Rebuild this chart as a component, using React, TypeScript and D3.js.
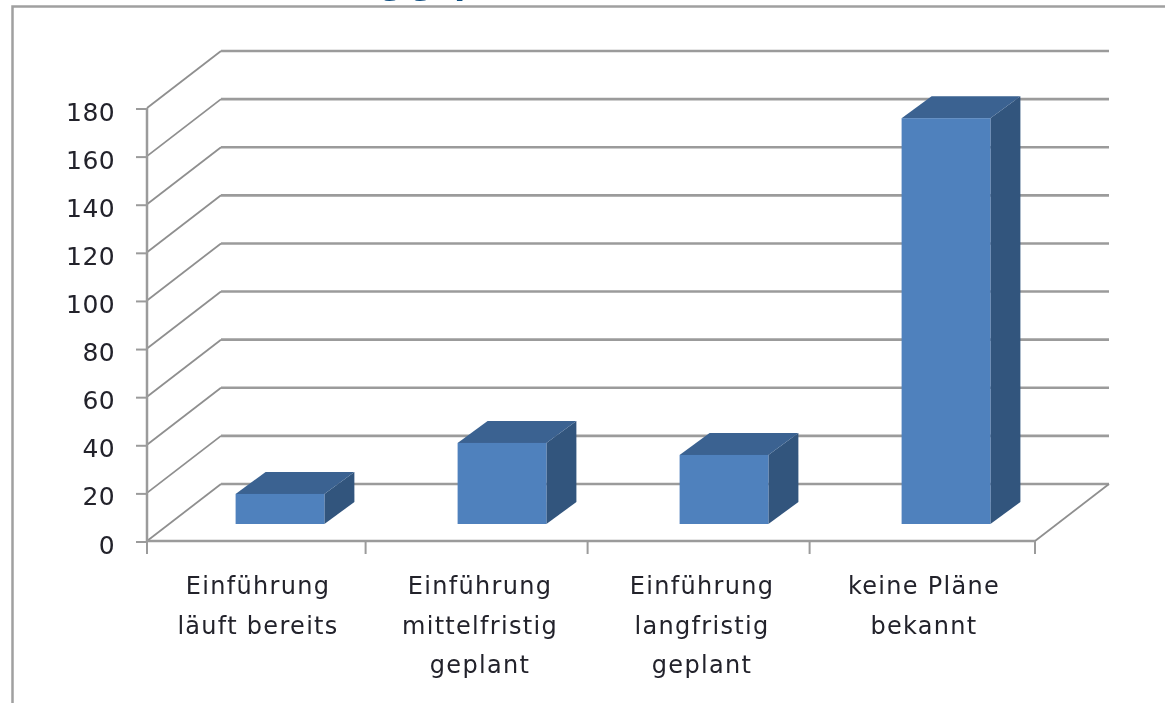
import { useEffect, useRef } from 'react';
import * as d3 from 'd3';

const categories = [
  ['Einführung', 'läuft bereits'],
  ['Einführung', 'mittelfristig', 'geplant'],
  ['Einführung', 'langfristig', 'geplant'],
  ['keine Pläne', 'bekannt'],
];
const values = [12.5, 33.7, 28.7, 168.7];
const yTicks = [0, 20, 40, 60, 80, 100, 120, 140, 160, 180];
const titleText = 'Einführung geplant';

const WIDTH = 1165;
const HEIGHT = 703;

function App() {
  const svgRef = useRef<SVGSVGElement>(null);

  useEffect(() => {
    const svg = d3.select(svgRef.current);
    svg.selectAll('*').remove();

    const titleFont = '"Open Sans", Lato, sans-serif';
    const labelFont = '"DejaVu Sans", "Open Sans", sans-serif';
    const textColor = '#22222c';
    const gridColor = '#9b9b9b';
    const wall = { dx: 74, dy: -57 };
    const barOffset = { dx: 22, dy: -17 };
    const barDepth = { dx: 30, dy: -22 };

    const x = d3.scaleBand<number>()
      .domain(d3.range(categories.length))
      .range([147, 1035])
      .paddingInner(0.6)
      .paddingOuter(0.3);
    const y = d3.scaleLinear().domain([0, 180]).range([541, 108]);
    const line = d3.line();
    const [xLeft, xRight] = x.range();

    const defs = svg.append('defs');
    defs.append('filter')
      .attr('id', 'soft')
      .attr('filterUnits', 'userSpaceOnUse')
      .attr('x', 0)
      .attr('y', 0)
      .attr('width', WIDTH)
      .attr('height', HEIGHT)
      .append('feGaussianBlur')
      .attr('stdDeviation', 0.7);

    const soft = svg.append('g').attr('filter', 'url(#soft)');

    // Chart frame, runs off the right and bottom of the picture
    soft.append('path')
      .attr('d', `M12.5,${HEIGHT} V6.5 H${WIDTH}`)
      .attr('fill', 'none')
      .attr('stroke', '#a0a0a0')
      .attr('stroke-width', 2.5);

    // Title, only its descenders show above the frame
    soft.append('text')
      .attr('x', 196)
      .attr('y', -8)
      .attr('fill', '#0f4d80')
      .style('font-family', titleFont)
      .style('font-size', '37px')
      .style('font-weight', 'bold')
      .text(titleText);

    // Gridlines on the side and back walls
    yTicks.forEach(t => {
      soft.append('path')
        .attr('d', line([
          [xLeft, y(t)],
          [xLeft + wall.dx, y(t) + wall.dy],
        ]))
        .attr('fill', 'none')
        .attr('stroke', '#8f8f8f')
        .attr('stroke-width', 1.8);
      soft.append('path')
        .attr('d', line([
          [xLeft + wall.dx, y(t) + wall.dy],
          [xRight + wall.dx, y(t) + wall.dy],
        ]))
        .attr('fill', 'none')
        .attr('stroke', gridColor)
        .attr('stroke-width', 2.6);
    });

    // Right edge of the floor
    soft.append('path')
      .attr('d', line([
        [xRight + wall.dx, y(0) + wall.dy],
        [xRight, y(0)],
      ]))
      .attr('fill', 'none')
      .attr('stroke', '#8f8f8f')
      .attr('stroke-width', 1.8);

    // Axes
    soft.append('path')
      .attr('d', line([[xLeft, y(180)], [xLeft, y(0)], [xRight, y(0)]]))
      .attr('fill', 'none')
      .attr('stroke', gridColor)
      .attr('stroke-width', 2.5);

    yTicks.forEach(t => {
      soft.append('line')
        .attr('x1', 136)
        .attr('x2', 147)
        .attr('y1', y(t) + 1)
        .attr('y2', y(t) + 1)
        .attr('stroke', gridColor)
        .attr('stroke-width', 2);
    });

    // Category ticks sit a little left of the even band edges
    const tickX = [
      xLeft,
      ...d3.range(1, categories.length).map(i => (x(i) as number) + barOffset.dx - 92),
      xRight,
    ];
    tickX.forEach(tx => {
      soft.append('line')
        .attr('x1', tx)
        .attr('x2', tx)
        .attr('y1', y(0))
        .attr('y2', y(0) + 13)
        .attr('stroke', gridColor)
        .attr('stroke-width', 2);
    });

    // 3D bars
    values.forEach((v, i) => {
      const x0 = (x(i) as number) + barOffset.dx;
      const x1 = x0 + x.bandwidth();
      const yBase = y(0) + barOffset.dy;
      const yTop = yBase - (y(0) - y(v));
      const g = soft.append('g');

      g.append('path')
        .attr('d', line([
          [x1, yTop],
          [x1 + barDepth.dx, yTop + barDepth.dy],
          [x1 + barDepth.dx, yBase + barDepth.dy],
          [x1, yBase],
        ]) + 'Z')
        .attr('fill', '#31547d');
      g.append('path')
        .attr('d', line([
          [x0, yTop],
          [x0 + barDepth.dx, yTop + barDepth.dy],
          [x1 + barDepth.dx, yTop + barDepth.dy],
          [x1, yTop],
        ]) + 'Z')
        .attr('fill', '#3b6291');
      g.append('rect')
        .attr('x', x0)
        .attr('y', yTop)
        .attr('width', x.bandwidth())
        .attr('height', yBase - yTop)
        .attr('fill', '#4f81bd');
    });

    const labels = svg.append('g').attr('filter', 'url(#soft)');

    // Y labels
    yTicks.forEach(t => {
      labels.append('text')
        .attr('x', 115)
        .attr('y', y(t) + 12.5)
        .attr('text-anchor', 'end')
        .attr('fill', textColor)
        .style('font-family', labelFont)
        .style('font-size', '25px')
        .style('letter-spacing', '0.4px')
        .text(t);
    });

    // Category labels
    categories.forEach((lines, i) => {
      const cx = (x(i) as number) + x.bandwidth() / 2;
      lines.forEach((l, j) => {
        labels.append('text')
          .attr('x', cx)
          .attr('y', 594 + j * 39.5)
          .attr('text-anchor', 'middle')
          .attr('fill', textColor)
          .style('font-family', labelFont)
          .style('font-size', '24px')
          .style('letter-spacing', '1.3px')
          .text(l);
      });
    });
  }, []);

  return (
    <svg
      ref={svgRef}
      width={WIDTH}
      height={HEIGHT}
      style={{ position: 'fixed', left: 0, top: 0, background: '#fff' }}
    />
  );
}

export default App;
